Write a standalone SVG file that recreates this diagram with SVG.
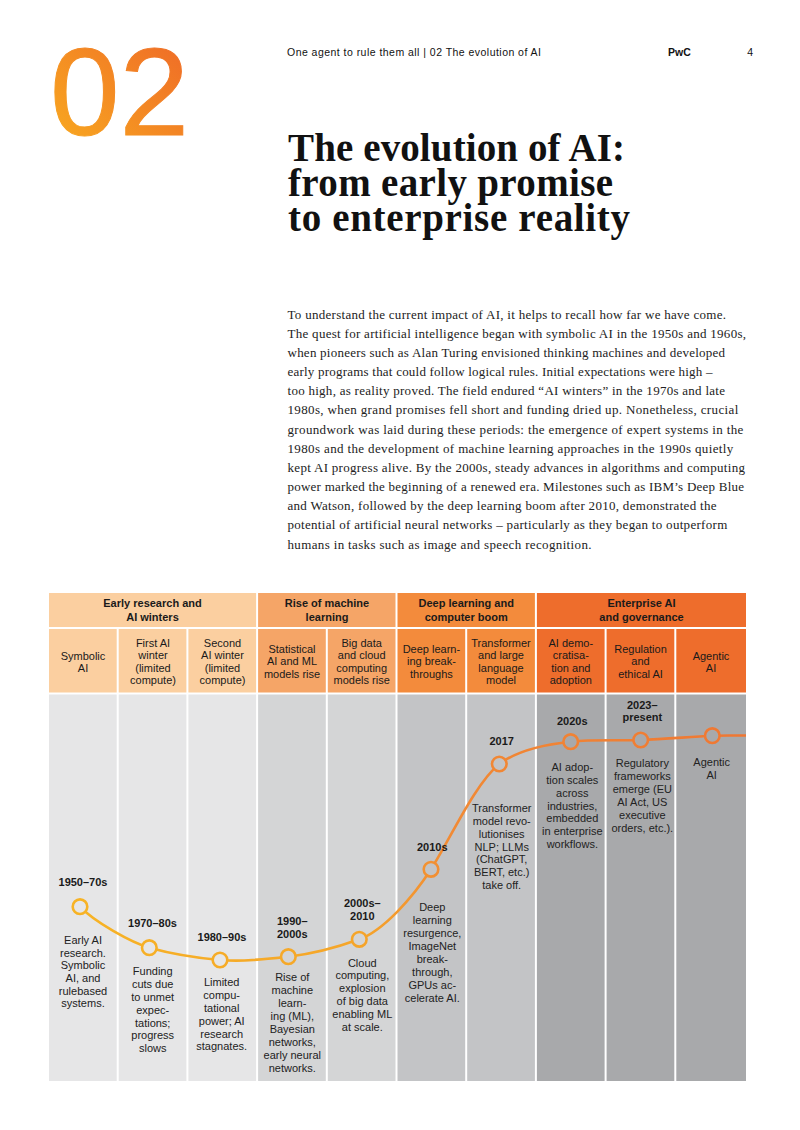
<svg xmlns="http://www.w3.org/2000/svg" width="800" height="1130" viewBox="0 0 800 1130">
<defs>
<linearGradient id="g02" x1="0" y1="1" x2="1" y2="0">
<stop offset="0" stop-color="#F9AE1F"/>
<stop offset="1" stop-color="#EE6528"/>
</linearGradient>
<linearGradient id="gc" gradientUnits="userSpaceOnUse" x1="80" y1="0" x2="746" y2="0">
<stop offset="0" stop-color="#F7B325"/>
<stop offset="0.42" stop-color="#F5A52A"/>
<stop offset="0.56" stop-color="#F18A35"/>
<stop offset="1" stop-color="#EF7733"/>
</linearGradient>
<style>
.hdr{font-family:"Liberation Sans",Arial,sans-serif;font-size:10.5px;fill:#111}
.ttl{font-family:"Liberation Serif","Times New Roman",serif;font-size:39px;font-weight:bold;fill:#111}
.bd{font-family:"Liberation Serif","Times New Roman",serif;font-size:13px;fill:#222}
.gh{font-family:"Liberation Sans",Arial,sans-serif;font-size:11px;font-weight:bold;fill:#1a1a1a;text-anchor:middle}
.ch{font-family:"Liberation Sans",Arial,sans-serif;font-size:11px;fill:#1a1a1a;text-anchor:middle}
.yr{font-family:"Liberation Sans",Arial,sans-serif;font-size:11px;font-weight:bold;fill:#1a1a1a;text-anchor:middle}
.tx{font-family:"Liberation Sans",Arial,sans-serif;font-size:11px;fill:#222;text-anchor:middle}
.ms{stroke:url(#gc);stroke-width:2.6}
.c1{fill:#FBCFA0}.c2{fill:#F5A567}.c3{fill:#F38B3C}.c4{fill:#EE6D2C}
.b1{fill:#E6E6E7}.b2{fill:#D4D5D6}.b3{fill:#C3C4C6}.b4{fill:#A8A9AB}
</style>
</defs>
<rect width="800" height="1130" fill="#fff"/>

<g id="page-header">
<text x="50" y="135" font-family="'Liberation Sans',Arial,sans-serif" font-size="125" fill="url(#g02)" stroke="url(#g02)" stroke-width="1">02</text>
<text class="hdr" x="287" y="56" textLength="254">One agent to rule them all  |  02 The evolution of AI</text>
<text class="hdr" x="668" y="56" font-weight="bold">PwC</text>
<text class="hdr" x="753" y="56" text-anchor="end">4</text>
</g>

<g id="title">
<text class="ttl" x="288" y="161" textLength="337">The evolution of AI:</text>
<text class="ttl" x="288" y="196" textLength="325">from early promise</text>
<text class="ttl" x="288" y="231" textLength="342">to enterprise reality</text>
</g>

<g id="intro">
<text class="bd" x="287.5" y="318.5" textLength="438.5">To understand the current impact of AI, it helps to recall how far we have come.</text>
<text class="bd" x="287.5" y="337.7" textLength="458.5">The quest for artificial intelligence began with symbolic AI in the 1950s and 1960s,</text>
<text class="bd" x="287.5" y="356.8" textLength="437.5">when pioneers such as Alan Turing envisioned thinking machines and developed</text>
<text class="bd" x="287.5" y="376" textLength="425">early programs that could follow logical rules. Initial expectations were high –</text>
<text class="bd" x="287.5" y="395.2" textLength="437.5">too high, as reality proved. The field endured “AI winters” in the 1970s and late</text>
<text class="bd" x="287.5" y="414.4" textLength="450.8">1980s, when grand promises fell short and funding dried up. Nonetheless, crucial</text>
<text class="bd" x="287.5" y="433.5" textLength="455.8">groundwork was laid during these periods: the emergence of expert systems in the</text>
<text class="bd" x="287.5" y="452.7" textLength="445.8">1980s and the development of machine learning approaches in the 1990s quietly</text>
<text class="bd" x="287.5" y="471.9" textLength="457.5">kept AI progress alive. By the 2000s, steady advances in algorithms and computing</text>
<text class="bd" x="287.5" y="491" textLength="456.5">power marked the beginning of a renewed era. Milestones such as IBM’s Deep Blue</text>
<text class="bd" x="287.5" y="510.2" textLength="429">and Watson, followed by the deep learning boom after 2010, demonstrated the</text>
<text class="bd" x="287.5" y="529.4" textLength="439.8">potential of artificial neural networks – particularly as they began to outperform</text>
<text class="bd" x="287.5" y="548.5" textLength="304">humans in tasks such as image and speech recognition.</text>
</g>

<g id="era-early-research">
<rect class="c1" x="49" y="593" width="207.1" height="34"/>
<text class="gh" x="152.5" y="607.2">Early research and</text>
<text class="gh" x="152.5" y="621.2">AI winters</text>
</g>
<g id="era-rise-ml">
<rect class="c2" x="258.1" y="593" width="137.4" height="34"/>
<text class="gh" x="327" y="607.2">Rise of machine</text>
<text class="gh" x="327" y="621.2">learning</text>
</g>
<g id="era-deep-learning">
<rect class="c3" x="397.5" y="593" width="137.4" height="34"/>
<text class="gh" x="466.2" y="607.2">Deep learning and</text>
<text class="gh" x="466.2" y="621.2">computer boom</text>
</g>
<g id="era-enterprise">
<rect class="c4" x="536.9" y="593" width="209.1" height="34"/>
<text class="gh" x="641.5" y="607.2">Enterprise AI</text>
<text class="gh" x="641.5" y="621.2">and governance</text>
</g>

<g id="phase-headers">
<rect class="c1" x="49" y="629" width="67.7" height="63.5"/>
<rect class="c1" x="118.7" y="629" width="67.7" height="63.5"/>
<rect class="c1" x="188.4" y="629" width="67.7" height="63.5"/>
<rect class="c2" x="258.1" y="629" width="67.7" height="63.5"/>
<rect class="c2" x="327.8" y="629" width="67.7" height="63.5"/>
<rect class="c3" x="397.5" y="629" width="67.7" height="63.5"/>
<rect class="c3" x="467.2" y="629" width="67.7" height="63.5"/>
<rect class="c4" x="536.9" y="629" width="67.7" height="63.5"/>
<rect class="c4" x="606.6" y="629" width="67.7" height="63.5"/>
<rect class="c4" x="676.3" y="629" width="69.7" height="63.5"/>
<text class="ch" x="83" y="659.7">Symbolic</text>
<text class="ch" x="83" y="672.3">AI</text>
<text class="ch" x="153" y="646.5">First AI</text>
<text class="ch" x="153" y="659.1">winter</text>
<text class="ch" x="153" y="671.7">(limited</text>
<text class="ch" x="153" y="684.3">compute)</text>
<text class="ch" x="222.5" y="646.5">Second</text>
<text class="ch" x="222.5" y="659.1">AI winter</text>
<text class="ch" x="222.5" y="671.7">(limited</text>
<text class="ch" x="222.5" y="684.3">compute)</text>
<text class="ch" x="292" y="652.8">Statistical</text>
<text class="ch" x="292" y="665.4">AI and ML</text>
<text class="ch" x="292" y="678">models rise</text>
<text class="ch" x="361.7" y="646.5">Big data</text>
<text class="ch" x="361.7" y="659.1">and cloud</text>
<text class="ch" x="361.7" y="671.7">computing</text>
<text class="ch" x="361.7" y="684.3">models rise</text>
<text class="ch" x="431.4" y="652.8">Deep learn-</text>
<text class="ch" x="431.4" y="665.4">ing break-</text>
<text class="ch" x="431.4" y="678">throughs</text>
<text class="ch" x="501" y="646.5">Transformer</text>
<text class="ch" x="501" y="659.1">and large</text>
<text class="ch" x="501" y="671.7">language</text>
<text class="ch" x="501" y="684.3">model</text>
<text class="ch" x="570.8" y="646.5">AI demo-</text>
<text class="ch" x="570.8" y="659.1">cratisa-</text>
<text class="ch" x="570.8" y="671.7">tion and</text>
<text class="ch" x="570.8" y="684.3">adoption</text>
<text class="ch" x="640.5" y="652.8">Regulation</text>
<text class="ch" x="640.5" y="665.4">and</text>
<text class="ch" x="640.5" y="678">ethical AI</text>
<text class="ch" x="711" y="659.7">Agentic</text>
<text class="ch" x="711" y="672.3">AI</text>
</g>

<g id="columns">
<rect class="b1" x="49" y="694.5" width="67.7" height="386.5"/>
<rect class="b1" x="118.7" y="694.5" width="67.7" height="386.5"/>
<rect class="b1" x="188.4" y="694.5" width="67.7" height="386.5"/>
<rect class="b2" x="258.1" y="694.5" width="67.7" height="386.5"/>
<rect class="b2" x="327.8" y="694.5" width="67.7" height="386.5"/>
<rect class="b3" x="397.5" y="694.5" width="67.7" height="386.5"/>
<rect class="b3" x="467.2" y="694.5" width="67.7" height="386.5"/>
<rect class="b4" x="536.9" y="694.5" width="67.7" height="386.5"/>
<rect class="b4" x="606.6" y="694.5" width="67.7" height="386.5"/>
<rect class="b4" x="676.3" y="694.5" width="69.7" height="386.5"/>
</g>

<g id="connectors">
<path fill="none" stroke="url(#gc)" stroke-width="2.6" d="M80,906.7 C94,921.7 131.3,942.7 149.3,947.7 C167.3,952.7 198,958 220,960 C242,962 266.3,959.2 288.3,956.7 C310.3,954.2 337.3,947.3 359.3,939.3 C383.3,930.6 413,897.3 431,869.3 C449,841.3 475.3,783 499.3,764 C519.3,749 546.7,744.2 570.7,741.7 C593.7,739.3 617.7,740.8 640.7,740 C664.7,739.2 688.3,736.9 712.3,735.7 C723.3,735.2 735,735.5 746,735.5"/>
</g>

<g id="m-1950s">
<text class="yr" x="83" y="886">1950–70s</text>
<circle class="ms b1" cx="80" cy="906.7" r="7.3"/>
<text class="tx" x="83" y="943.9">Early AI</text>
<text class="tx" x="83" y="956.6">research.</text>
<text class="tx" x="83" y="969.3">Symbolic</text>
<text class="tx" x="83" y="982">AI, and</text>
<text class="tx" x="83" y="994.7">rulebased</text>
<text class="tx" x="83" y="1007.4">systems.</text>
</g>
<g id="m-1970s">
<text class="yr" x="152.5" y="927">1970–80s</text>
<circle class="ms b1" cx="149.3" cy="947.7" r="7.3"/>
<text class="tx" x="152.7" y="974.9">Funding</text>
<text class="tx" x="152.7" y="987.8">cuts due</text>
<text class="tx" x="152.7" y="1000.7">to unmet</text>
<text class="tx" x="152.7" y="1013.6">expec-</text>
<text class="tx" x="152.7" y="1026.5">tations;</text>
<text class="tx" x="152.7" y="1039.4">progress</text>
<text class="tx" x="152.7" y="1052.3">slows</text>
</g>
<g id="m-1980s">
<text class="yr" x="222" y="940.5">1980–90s</text>
<circle class="ms b1" cx="220" cy="960" r="7.3"/>
<text class="tx" x="221.7" y="985.9">Limited</text>
<text class="tx" x="221.7" y="998.8">compu-</text>
<text class="tx" x="221.7" y="1011.7">tational</text>
<text class="tx" x="221.7" y="1024.6">power; AI</text>
<text class="tx" x="221.7" y="1037.5">research</text>
<text class="tx" x="221.7" y="1050.4">stagnates.</text>
</g>
<g id="m-1990s">
<text class="yr" x="292.3" y="925">1990–</text>
<text class="yr" x="292.3" y="937.5">2000s</text>
<circle class="ms b2" cx="288.3" cy="956.7" r="7.3"/>
<text class="tx" x="292.3" y="981.2">Rise of</text>
<text class="tx" x="292.3" y="994.1">machine</text>
<text class="tx" x="292.3" y="1007">learn-</text>
<text class="tx" x="292.3" y="1019.9">ing (ML),</text>
<text class="tx" x="292.3" y="1032.8">Bayesian</text>
<text class="tx" x="292.3" y="1045.7">networks,</text>
<text class="tx" x="292.3" y="1058.6">early neural</text>
<text class="tx" x="292.3" y="1071.5">networks.</text>
</g>
<g id="m-2000s">
<text class="yr" x="362.3" y="907.3">2000s–</text>
<text class="yr" x="362.3" y="919.7">2010</text>
<circle class="ms b2" cx="359.3" cy="939.3" r="7.3"/>
<text class="tx" x="362.3" y="966.6">Cloud</text>
<text class="tx" x="362.3" y="979.4">computing,</text>
<text class="tx" x="362.3" y="992.2">explosion</text>
<text class="tx" x="362.3" y="1005">of big data</text>
<text class="tx" x="362.3" y="1017.8">enabling ML</text>
<text class="tx" x="362.3" y="1030.6">at scale.</text>
</g>
<g id="m-2010s">
<text class="yr" x="432.3" y="850.5">2010s</text>
<circle class="ms b3" cx="431" cy="869.3" r="7.3"/>
<text class="tx" x="432.3" y="911.2">Deep</text>
<text class="tx" x="432.3" y="924.1">learning</text>
<text class="tx" x="432.3" y="937">resurgence,</text>
<text class="tx" x="432.3" y="949.9">ImageNet</text>
<text class="tx" x="432.3" y="962.8">break-</text>
<text class="tx" x="432.3" y="975.7">through,</text>
<text class="tx" x="432.3" y="988.6">GPUs ac-</text>
<text class="tx" x="432.3" y="1001.5">celerate AI.</text>
</g>
<g id="m-2017">
<text class="yr" x="501.7" y="744.5">2017</text>
<circle class="ms b3" cx="499.3" cy="764" r="7.3"/>
<text class="tx" x="501.7" y="812.2">Transformer</text>
<text class="tx" x="501.7" y="825">model revo-</text>
<text class="tx" x="501.7" y="837.8">lutionises</text>
<text class="tx" x="501.7" y="850.6">NLP; LLMs</text>
<text class="tx" x="501.7" y="863.4">(ChatGPT,</text>
<text class="tx" x="501.7" y="876.2">BERT, etc.)</text>
<text class="tx" x="501.7" y="889">take off.</text>
</g>
<g id="m-2020s">
<text class="yr" x="572.3" y="724.5">2020s</text>
<circle class="ms b4" cx="570.7" cy="741.7" r="7.3"/>
<text class="tx" x="572.3" y="771.2">AI adop-</text>
<text class="tx" x="572.3" y="784">tion scales</text>
<text class="tx" x="572.3" y="796.8">across</text>
<text class="tx" x="572.3" y="809.6">industries,</text>
<text class="tx" x="572.3" y="822.4">embedded</text>
<text class="tx" x="572.3" y="835.2">in enterprise</text>
<text class="tx" x="572.3" y="848">workflows.</text>
</g>
<g id="m-2023">
<text class="yr" x="642.3" y="709">2023–</text>
<text class="yr" x="642.3" y="721.3">present</text>
<circle class="ms b4" cx="640.7" cy="740" r="7.3"/>
<text class="tx" x="642.3" y="767.2">Regulatory</text>
<text class="tx" x="642.3" y="780.2">frameworks</text>
<text class="tx" x="642.3" y="793.2">emerge (EU</text>
<text class="tx" x="642.3" y="806.2">AI Act, US</text>
<text class="tx" x="642.3" y="819.2">executive</text>
<text class="tx" x="642.3" y="832.2">orders, etc.).</text>
</g>
<g id="m-agentic">
<circle class="ms b4" cx="712.3" cy="735.7" r="7.3"/>
<text class="tx" x="711.7" y="765.6">Agentic</text>
<text class="tx" x="711.7" y="778.6">AI</text>
</g>
</svg>
